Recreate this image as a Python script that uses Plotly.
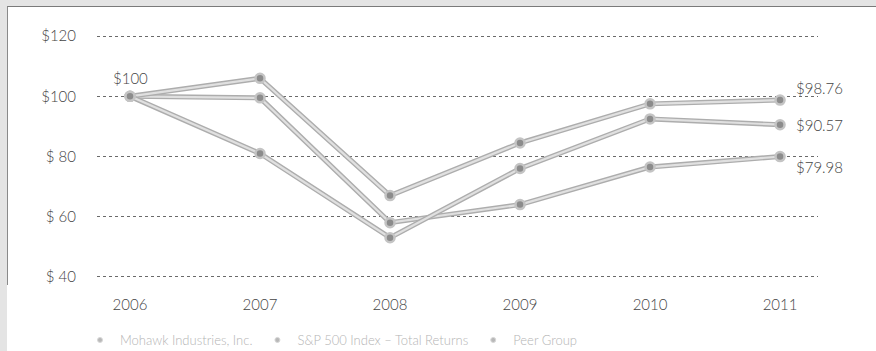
import plotly.graph_objects as go

# Five-year cumulative total return, $100 invested at end of 2006
years = [2006, 2007, 2008, 2009, 2010, 2011]
year_labels = ["2006", "2007", "2008", "2009", "2010", "2011"]
mohawk = [100, 99.5, 58.0, 64.0, 76.5, 79.98]
sp500 = [100, 106.0, 67.0, 84.5, 97.5, 98.76]
peer_group = [100, 81.0, 53.0, 76.0, 92.5, 90.57]

series_names = ["Mohawk Industries, Inc.", "S&P 500 Index – Total Returns", "Peer Group"]
series_values = [mohawk, sp500, peer_group]

y_ticks = [40, 60, 80, 100, 120]
y_tick_labels = ["$ 40", "$ 60", "$ 80", "$100", "$120"]

end_labels = ["$79.98", "$98.76", "$90.57"]
end_label_shift = [-10, 12, 0]
start_label = "$100"

FONT = "Lato"
LINE_OUTER = "#adadad"
LINE_INNER = "#e0e0e0"
MARKER_FILL = "#8c8c8c"
MARKER_RING = "#c4c4c4"

fig = go.Figure()

# Each series: darker outer stroke with a pale core, then ringed markers on top
for name, vals in zip(series_names, series_values):
    fig.add_trace(go.Scatter(x=years, y=vals, mode="lines",
                             line=dict(color=LINE_OUTER, width=5),
                             showlegend=False, hoverinfo="skip"))
    fig.add_trace(go.Scatter(x=years, y=vals, mode="lines",
                             line=dict(color=LINE_INNER, width=2.2),
                             showlegend=False, hoverinfo="skip"))
for name, vals in zip(series_names, series_values):
    fig.add_trace(go.Scatter(x=years, y=vals, mode="markers", name=name,
                             marker=dict(size=9, color=MARKER_FILL,
                                         line=dict(color=MARKER_RING, width=2.5)),
                             showlegend=False))

# Legend entries: small dots only
for name in series_names:
    fig.add_trace(go.Scatter(x=[None], y=[None], mode="markers", name=name,
                             marker=dict(size=5, color="#b8b8b8",
                                         line=dict(color="#d8d8d8", width=1))))

# Value labels
fig.add_annotation(x=years[0], y=100, text=start_label, showarrow=False,
                   xanchor="center", yanchor="bottom", yshift=7,
                   font=dict(family=FONT, size=15, color="#444", weight=300))
for lab, vals, dy in zip(end_labels, series_values, end_label_shift):
    fig.add_annotation(x=years[-1], y=vals[-1], text=lab, showarrow=False,
                       xanchor="left", xshift=14, yanchor="middle", yshift=dy,
                       font=dict(family=FONT, size=15, color="#444", weight=300))

# Page frame (top and left edges) mapped from pixel positions
L, R, T, B = 97, 818, 35, 278
def px(xp):
    return (xp - L) / (R - L)
def py(yp):
    return (B - yp) / (B - T)

fig.add_shape(type="rect", xref="paper", yref="paper",
              x0=px(0), x1=px(876), y0=py(6), y1=py(0),
              fillcolor="#e4e4e4", line=dict(width=0), layer="below")
fig.add_shape(type="rect", xref="paper", yref="paper",
              x0=px(0), x1=px(7), y0=py(351), y1=py(0),
              fillcolor="#e4e4e4", line=dict(width=0), layer="below")
fig.add_shape(type="line", xref="paper", yref="paper",
              x0=px(7), x1=px(876), y0=py(6.5), y1=py(6.5),
              line=dict(color="#7a7a7a", width=1))
fig.add_shape(type="line", xref="paper", yref="paper",
              x0=px(7.5), x1=px(7.5), y0=py(6.5), y1=py(285),
              line=dict(color="#8a8a8a", width=1))

fig.update_layout(
    width=876, height=351,
    margin=dict(l=L, r=876 - R, t=T, b=351 - B, autoexpand=False),
    paper_bgcolor="white", plot_bgcolor="white",
    font=dict(family=FONT, color="#444"),
    showlegend=True,
    legend=dict(orientation="h", x=px(80), xanchor="left", y=py(325), yanchor="top",
                font=dict(family=FONT, size=13, color="#b4b4b4", weight=300),
                itemwidth=30, bgcolor="rgba(0,0,0,0)", tracegroupgap=0),
    xaxis=dict(range=[2005.746, 2011.292], tickvals=years, ticktext=year_labels,
               showgrid=False, zeroline=False, showline=False, ticks="",
               ticklabelstandoff=16,
               tickfont=dict(family=FONT, size=15, color="#444", weight=300)),
    yaxis=dict(range=[39.6, 120.4], tickvals=y_ticks, ticktext=y_tick_labels,
               showgrid=True, gridcolor="#6a6a6a", gridwidth=1, griddash="dot",
               zeroline=False, showline=False, ticks="",
               ticklabelstandoff=20,
               tickfont=dict(family=FONT, size=15, color="#444", weight=300)),
)

fig.write_html("out.html")
